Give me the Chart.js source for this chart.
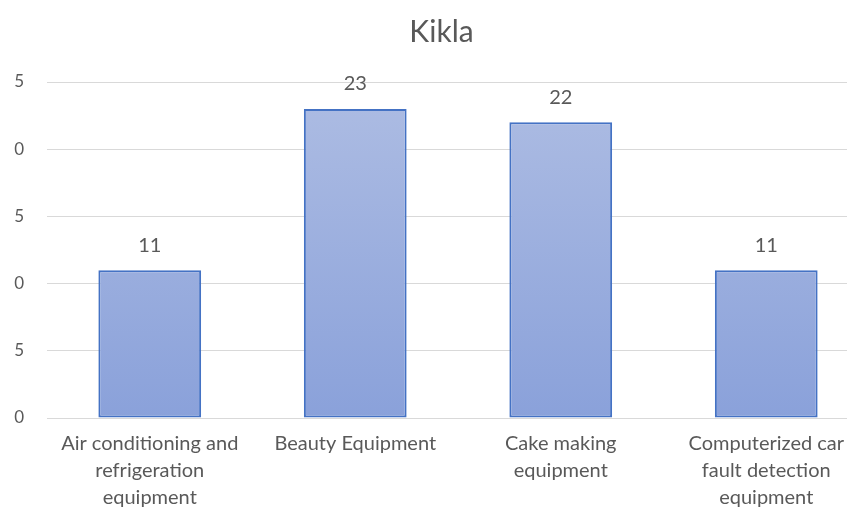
<!DOCTYPE html>
<html>
<head>
<meta charset="utf-8">
<script src="https://cdn.jsdelivr.net/npm/chart.js@4"></script>
<style>
	html, body { margin: 0; padding: 0; background: #fff; overflow: hidden; }
	#wrap { position: relative; width: 847px; height: 511px; overflow: hidden; }
	#holder { position: absolute; left: 0; top: 0; width: 880px; height: 523px; }
</style>
</head>
<body>
<div id="wrap"><div id="holder"><canvas id="bar-chartcanvas"></canvas></div></div>
<script>
var categories = [
	["Air conditioning and", "refrigeration", "equipment"],
	"Beauty Equipment",
	["Cake making", "equipment"],
	["Computerized car", "fault detection", "equipment"]
];
var counts = [11, 23, 22, 11];
var yTicks = [0, 5, 10, 15, 20, 25];

var textGrey = "#595959";
var fontFamily = "Lato, 'Open Sans', sans-serif";

// draw the value above each bar
var valueLabels = {
	id : "valueLabels",
	afterDatasetsDraw : function(chart) {
		var ctx = chart.ctx;
		var meta = chart.getDatasetMeta(0);
		ctx.save();
		ctx.fillStyle = textGrey;
		ctx.font = "20px " + fontFamily;
		ctx.textAlign = "center";
		ctx.textBaseline = "middle";
		meta.data.forEach(function(bar, i) {
			ctx.fillText(chart.data.datasets[0].data[i], bar.x, bar.y - 25);
		});
		ctx.restore();
	}
};

function barFill(context) {
	var area = context.chart.chartArea;
	if (!area) return "#9aaedf";
	var g = context.chart.ctx.createLinearGradient(0, area.top, 0, area.bottom);
	g.addColorStop(0, "#aebde3");
	g.addColorStop(1, "#8aa1da");
	return g;
}

var ctx = document.getElementById("bar-chartcanvas");

var chart = new Chart(ctx, {
	type : "bar",
	data : {
		labels : categories,
		datasets : [{
			label : "Kikla",
			data : counts,
			backgroundColor : barFill,
			borderColor : "#4472c4",
			borderWidth : 2,
			borderSkipped : false,
			categoryPercentage : 1,
			barPercentage : 0.5
		}]
	},
	options : {
		responsive : true,
		maintainAspectRatio : false,
		animation : false,
		layout : { padding : { top : 8, right : 11, left : 14, bottom : 0 } },
		plugins : {
			legend : { display : false },
			tooltip : { enabled : false },
			title : {
				display : true,
				text : "Kikla",
				color : textGrey,
				font : { family : fontFamily, size : 30, weight : "normal" },
				padding : { top : 6, bottom : 32 }
			}
		},
		scales : {
			x : {
				// let the wide first label hang over the y axis like the original
				afterFit : function(axis) {
					axis.paddingLeft = 0;
					axis.paddingRight = 0;
				},
				grid : { display : false, drawTicks : false },
				border : { color : "#d9d9d9", width : 1 },
				ticks : {
					color : textGrey,
					font : { family : fontFamily, size : 20, lineHeight : 1.35 },
					maxRotation : 0,
					autoSkip : false,
					padding : 12
				}
			},
			y : {
				min : 0,
				max : 25,
				afterBuildTicks : function(axis) {
					axis.ticks = yTicks.map(function(v) { return { value : v }; });
				},
				afterFit : function(axis) {
					axis.width = 33;
				},
				grid : { color : "#d9d9d9", drawTicks : false },
				border : { display : false },
				ticks : {
					color : textGrey,
					font : { family : fontFamily, size : 17 },
					padding : 23,
					// the reference is cut off on the left, only the last digit shows
					callback : function(value) { return String(value % 10); }
				}
			}
		}
	},
	plugins : [valueLabels]
});
</script>
</body>
</html>
